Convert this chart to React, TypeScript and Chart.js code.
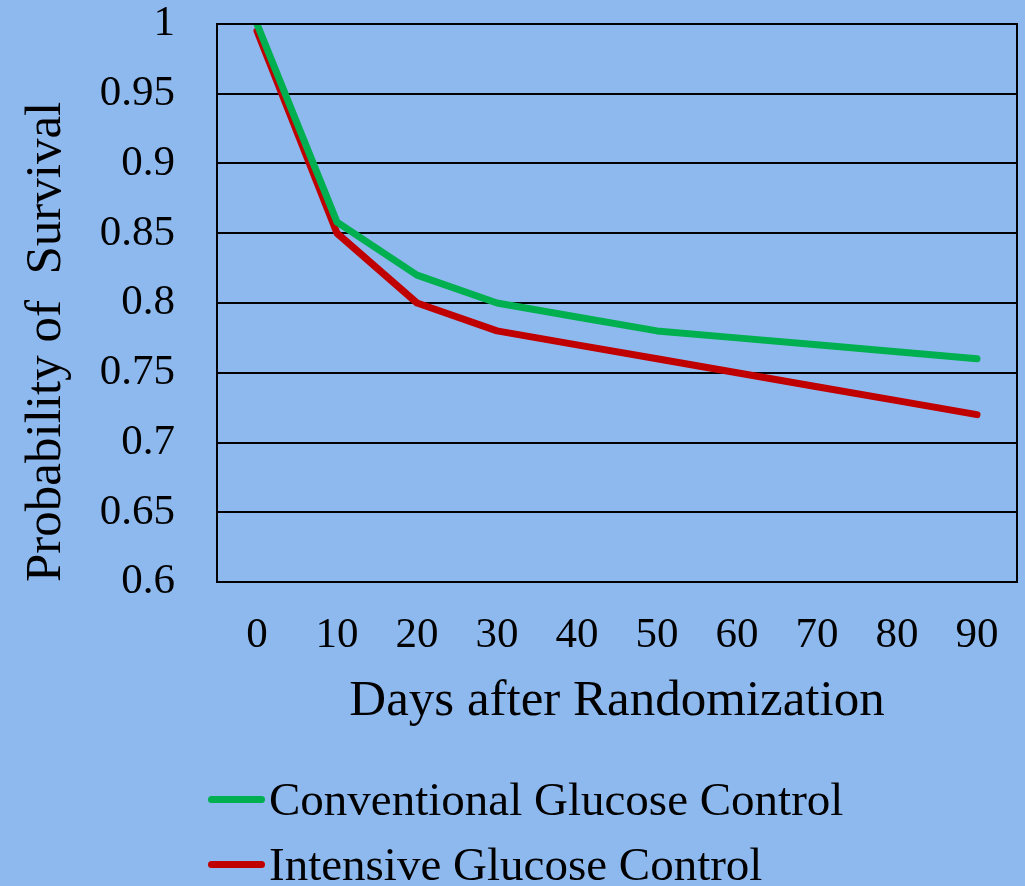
import React, { useEffect, useRef } from "react";
import { Chart, registerables } from "chart.js";

Chart.register(...registerables);

const days = ["0", "10", "20", "30", "40", "50", "60", "70", "80", "90"];
const conventional = [1.0, 0.858, 0.82, 0.8, 0.79, 0.78, 0.775, 0.77, 0.765, 0.76];
const intensive = [0.995, 0.85, 0.8, 0.78, 0.77, 0.76, 0.75, 0.74, 0.73, 0.72];
const seriesNames = ["Conventional Glucose Control", "Intensive Glucose Control"];
const seriesColors = ["#00B050", "#C00000"];
const yTitle = "Probability of  Survival";
const xTitle = "Days after Randomization";

const BG = "#8EB9EE";
const FONT = "'Liberation Serif', 'Times New Roman', serif";

const boxPlugin = {
  id: "boxPlugin",
  afterDraw(chart: any) {
    const { ctx, chartArea } = chart;
    ctx.save();
    ctx.strokeStyle = "#000";
    ctx.lineWidth = 2;
    ctx.strokeRect(chartArea.left, chartArea.top, chartArea.right - chartArea.left, chartArea.bottom - chartArea.top);
    ctx.restore();
  },
};

export default function App() {
  const ref = useRef<HTMLCanvasElement>(null);
  useEffect(() => {
    if (!ref.current) return;
    const chart = new Chart(ref.current, {
      type: "line",
      data: {
        labels: days,
        datasets: [
          {
            label: seriesNames[0],
            data: conventional,
            borderColor: seriesColors[0],
            backgroundColor: seriesColors[0],
            borderWidth: 7,
            pointRadius: 0,
            borderCapStyle: "round",
            borderJoinStyle: "round",
            tension: 0,
          },
          {
            label: seriesNames[1],
            data: intensive,
            borderColor: seriesColors[1],
            backgroundColor: seriesColors[1],
            borderWidth: 7,
            pointRadius: 0,
            borderCapStyle: "round",
            borderJoinStyle: "round",
            tension: 0,
          },
        ],
      },
      options: {
        animation: false,
        responsive: false,
        maintainAspectRatio: false,
        layout: { padding: { left: 0, right: 8, top: 24, bottom: 154 } },
        plugins: {
          legend: { display: false },
          tooltip: { enabled: false },
        },
        scales: {
          x: {
            offset: true,
            grid: { display: false, drawTicks: false },
            border: { display: true, color: "#000", width: 2 },
            ticks: { color: "#000", font: { family: FONT, size: 43 }, padding: 28 },
            title: {
              display: true,
              text: xTitle,
              color: "#000",
              font: { family: FONT, size: 51 },
              padding: { top: 0, bottom: 0 },
            },
            afterFit(scale: any) {
              scale.height = 150;
              scale.paddingLeft = 0;
              scale.paddingRight = 0;
            },
          },
          y: {
            min: 0.6,
            max: 1,
            grid: { color: "#000", lineWidth: 2, drawTicks: false },
            border: { display: true, color: "#000", width: 2 },
            ticks: {
              stepSize: 0.05,
              color: "#000",
              font: { family: FONT, size: 43 },
              padding: 42,
              callback: (v: any) => String(Math.round(Number(v) * 100) / 100),
            },
            title: {
              display: true,
              text: yTitle,
              align: "start",
              color: "#000",
              font: { family: FONT, size: 51 },
              padding: { top: 16, bottom: 0 },
            },
            afterFit(scale: any) {
              scale.width = 217;
              scale.paddingTop = 0;
              scale.paddingBottom = 0;
            },
          },
        },
      },
      plugins: [boxPlugin],
    });
    return () => chart.destroy();
  }, []);

  const legendRow = (i: number, top: number) => (
    <div
      style={{
        position: "absolute",
        left: 208,
        top,
        display: "flex",
        alignItems: "center",
        fontFamily: FONT,
        fontSize: 47,
        color: "#000",
        whiteSpace: "nowrap",
        lineHeight: 1,
      }}
    >
      <span
        style={{
          display: "inline-block",
          width: 57,
          height: 7,
          borderRadius: 4,
          background: seriesColors[i],
          marginRight: 4,
        }}
      />
      <span>{seriesNames[i]}</span>
    </div>
  );

  return (
    <div style={{ position: "fixed", left: 0, top: 0, width: 1025, height: 886, background: BG, overflow: "hidden" }}>
      <canvas ref={ref} width={1025} height={886} style={{ position: "absolute", left: 0, top: 0 }} />
      {legendRow(0, 776)}
      {legendRow(1, 841)}
    </div>
  );
}
